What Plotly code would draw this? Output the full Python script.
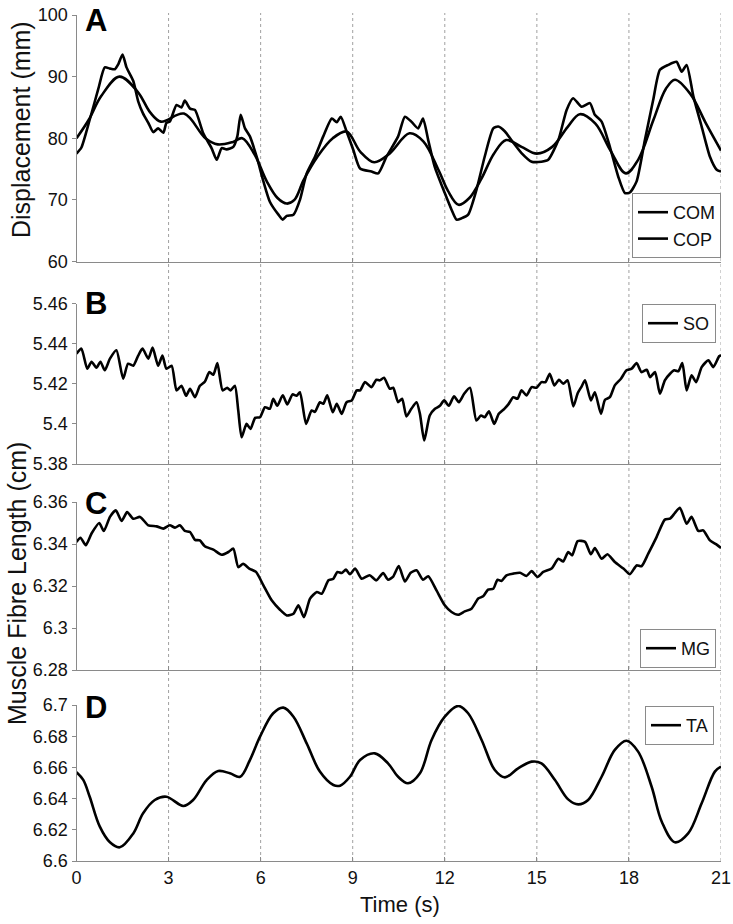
import plotly.graph_objects as go

# ---------------- data ----------------
x_ticks = [0, 3, 6, 9, 12, 15, 18, 21]

# Panel A: COM (smooth) and COP (noisy), mm
com_t = [0, 0.4, 0.8, 1.4, 2.0, 2.4, 2.75, 3.5, 4.2, 4.6, 5.1, 5.4, 5.8, 6.2, 6.55, 6.85, 7.1, 7.4,
         7.85, 8.35, 8.8, 9.25, 9.7, 10.2, 10.85, 11.3, 11.8, 12.1, 12.45, 12.8, 13.2, 13.6, 14.0,
         14.5, 15.0, 15.5, 16.0, 16.4, 16.9, 17.4, 17.9, 18.3, 18.8, 19.2, 19.5, 20.0, 20.5, 21.0]
com_y = [80, 83, 86.8, 90, 87.5, 84.2, 82.7, 84.0, 80.0, 79.0, 79.4, 80.0, 77.4, 73, 70.3, 69.4, 70,
         73.2, 77, 80, 81.1, 77.8, 76.1, 77.5, 80.8, 79.5, 74.8, 71.5, 69.2, 70.3, 73.5, 77.5, 79.7,
         78.6, 77.5, 78.6, 81.8, 83.9, 82.4, 78.0, 74.3, 76.5, 83.0, 88.0, 89.5, 87.2, 82.5, 78]

cop_t = [0.00, 0.16, 0.43, 0.71, 0.92, 1.09, 1.25, 1.36, 1.50, 1.63, 1.85, 2.01, 2.17, 2.34, 2.50,
         2.66, 2.83, 2.93, 3.04, 3.26, 3.42, 3.53, 3.70, 3.86, 4.13, 4.40, 4.57, 4.73, 4.89, 5.11,
         5.24, 5.35, 5.49, 5.65, 5.87, 6.09, 6.30, 6.58, 6.72, 6.85, 7.07, 7.28, 7.50, 7.77, 8.04,
         8.32, 8.48, 8.61, 8.80, 9.02, 9.24, 9.61, 9.83, 10.10, 10.48, 10.70, 10.91, 11.13, 11.29,
         11.46, 11.67, 12.00, 12.22, 12.38, 12.54, 12.76, 13.03, 13.30, 13.58, 13.74, 13.96, 14.17,
         14.50, 14.83, 15.15, 15.37, 15.70, 15.97, 16.18, 16.46, 16.73, 16.89, 17.11, 17.38, 17.65,
         17.87, 18.03, 18.25, 18.52, 18.79, 19.01, 19.28, 19.55, 19.72, 19.88, 20.10, 20.37, 20.64,
         20.86, 21.00]
cop_y = [77.5, 78.5, 83, 88, 91.5, 91.3, 91.2, 92, 93.6, 91.5, 89.3, 86, 84, 82.5, 81,
         81.6, 80.9, 82.5, 82.7, 85.4, 85, 86.1, 84.8, 84.6, 80.8, 78.4, 76.5, 78.4, 78.2, 78.6,
         80.3, 83.8, 81.6, 80.3, 77, 73, 69.7, 67.6, 66.8, 67.4, 67.6, 70, 74.3, 77, 80.3,
         83.2, 82.6, 83.5, 81.1, 78.1, 75.1, 74.6, 74.3, 77, 80.3, 83.5, 82.7, 81.6, 83.2,
         79.7, 75.4, 71.1, 68.4, 66.8, 67, 67.6, 71.6, 77, 81.6, 81.9, 81.1, 79.7,
         77.6, 76.2, 76.2, 76.5, 79.7, 84.6, 86.5, 85.1, 85.7, 83.8, 82.7, 78.6, 73.8,
         71.1, 71.2, 73, 79.7, 86.2, 91.1, 91.9, 92.4, 90.8, 91.9, 86.8, 81.9, 77,
         74.9, 74.6]

# Panel B: SO fibre length, cm
so_t = [0.00, 0.16, 0.35, 0.49, 0.65, 0.78, 0.92, 1.09, 1.30, 1.52, 1.68, 1.85, 2.01, 2.15, 2.34,
        2.48, 2.66, 2.80, 2.93, 3.10, 3.26, 3.42, 3.57, 3.70, 3.86, 4.02, 4.18, 4.33, 4.46, 4.59,
        4.76, 4.91, 5.02, 5.16, 5.27, 5.38, 5.54, 5.67, 5.82, 5.98, 6.14, 6.30, 6.41, 6.54, 6.72,
        6.87, 7.04, 7.17, 7.28, 7.48, 7.66, 7.77, 7.93, 8.04, 8.17, 8.35, 8.48, 8.64, 8.80, 8.97,
        9.13, 9.24, 9.40, 9.61, 9.77, 9.88, 10.02, 10.21, 10.32, 10.48, 10.61, 10.75, 10.91, 11.08,
        11.19, 11.33, 11.51, 11.68, 11.84, 11.98, 12.13, 12.30, 12.46, 12.63, 12.82, 13.03, 13.18,
        13.30, 13.44, 13.61, 13.76, 13.94, 14.07, 14.23, 14.37, 14.50, 14.66, 14.83, 14.99, 15.15,
        15.28, 15.42, 15.57, 15.72, 15.86, 16.00, 16.19, 16.33, 16.46, 16.57, 16.76, 16.89, 17.09,
        17.22, 17.38, 17.54, 17.74, 17.92, 18.09, 18.25, 18.41, 18.58, 18.69, 18.85, 19.01, 19.17,
        19.34, 19.48, 19.61, 19.74, 19.88, 20.04, 20.19, 20.37, 20.59, 20.75, 20.94, 21.00]
so_y = [5.435, 5.4375, 5.4275, 5.431, 5.428, 5.431, 5.4267, 5.4325, 5.4367, 5.4225, 5.430, 5.429,
        5.434, 5.4375, 5.4325, 5.438, 5.429, 5.434, 5.4275, 5.429, 5.4167, 5.419, 5.414, 5.4175,
        5.4133, 5.419, 5.421, 5.4258, 5.4245, 5.4303, 5.4167, 5.418, 5.4167, 5.419, 5.4067, 5.3933,
        5.400, 5.3975, 5.403, 5.4033, 5.4083, 5.4075, 5.4125, 5.409, 5.4142, 5.4097, 5.4147, 5.414,
        5.4158, 5.400, 5.4067, 5.406, 5.4108, 5.410, 5.4142, 5.4058, 5.410, 5.405, 5.4108, 5.4117,
        5.4167, 5.4167, 5.4208, 5.4183, 5.422, 5.4217, 5.423, 5.4175, 5.418, 5.4108, 5.4125, 5.4037,
        5.4075, 5.4108, 5.405, 5.3917, 5.4042, 5.4075, 5.409, 5.4117, 5.409, 5.4137, 5.4108, 5.415,
        5.418, 5.4017, 5.4042, 5.4033, 5.4063, 5.400, 5.405, 5.4075, 5.4097, 5.4133, 5.4125, 5.4167,
        5.4142, 5.4183, 5.418, 5.4208, 5.4208, 5.425, 5.4192, 5.422, 5.420, 5.4217, 5.4087, 5.4153,
        5.4187, 5.4217, 5.4117, 5.4158, 5.405, 5.412, 5.4133, 5.4192, 5.4225, 5.4267, 5.4275, 5.4303,
        5.4258, 5.427, 5.4233, 5.4258, 5.415, 5.4217, 5.425, 5.4267, 5.4262, 5.4303, 5.4167, 5.4242,
        5.4208, 5.4283, 5.4317, 5.4283, 5.4337, 5.4342]

# Panel C: MG fibre length, cm
mg_t = [0.00, 0.13, 0.30, 0.49, 0.74, 0.89, 1.09, 1.28, 1.47, 1.65, 1.85, 2.07, 2.34, 2.61, 2.83,
        3.04, 3.21, 3.37, 3.53, 3.70, 3.86, 4.02, 4.18, 4.46, 4.73, 4.95, 5.11, 5.27, 5.43, 5.63,
        5.85, 6.09, 6.36, 6.63, 6.85, 7.07, 7.23, 7.41, 7.61, 7.83, 7.99, 8.21, 8.37, 8.50, 8.64,
        8.78, 8.91, 9.08, 9.29, 9.55, 9.77, 9.99, 10.15, 10.32, 10.50, 10.70, 10.89, 11.08, 11.29,
        11.46, 11.73, 12.00, 12.22, 12.44, 12.65, 12.87, 13.09, 13.25, 13.41, 13.58, 13.72, 13.85,
        14.01, 14.23, 14.45, 14.66, 14.83, 15.02, 15.21, 15.48, 15.70, 15.86, 16.02, 16.15, 16.33,
        16.57, 16.76, 16.89, 17.11, 17.30, 17.54, 17.82, 18.03, 18.25, 18.41, 18.63, 18.90, 19.17,
        19.34, 19.50, 19.66, 19.88, 20.04, 20.26, 20.42, 20.64, 20.86, 21.00]
mg_y = [6.341, 6.343, 6.3394, 6.345, 6.350, 6.3462, 6.3529, 6.356, 6.351, 6.3552, 6.352, 6.3529,
        6.3489, 6.3484, 6.3473, 6.3489, 6.3478, 6.3489, 6.3462, 6.3457, 6.342, 6.3417, 6.3389,
        6.3373, 6.3349, 6.3362, 6.3378, 6.329, 6.3306, 6.3283, 6.3267, 6.3203, 6.3132, 6.3087,
        6.306, 6.3068, 6.3108, 6.3052, 6.314, 6.3171, 6.3163, 6.3227, 6.3235, 6.3267, 6.3262,
        6.3278, 6.3256, 6.3283, 6.3235, 6.3251, 6.3227, 6.3262, 6.323, 6.3245, 6.3295, 6.3222,
        6.3263, 6.3275, 6.323, 6.3246, 6.3179, 6.3108, 6.3076, 6.3063, 6.3079, 6.3092, 6.314,
        6.3151, 6.3183, 6.3187, 6.323, 6.3224, 6.3251, 6.3259, 6.3263, 6.3248, 6.3271, 6.3243,
        6.3267, 6.3283, 6.333, 6.3317, 6.3362, 6.3346, 6.3414, 6.341, 6.3351, 6.3381, 6.333,
        6.3351, 6.3314, 6.3283, 6.3256, 6.3298, 6.3294, 6.3354, 6.3433, 6.3516, 6.3521, 6.3548,
        6.3573, 6.3497, 6.3529, 6.3462, 6.3465, 6.3417, 6.3397, 6.3381]

# Panel D: TA fibre length, cm
ta_t = [0.00, 0.22, 0.43, 0.76, 1.09, 1.41, 1.85, 2.17, 2.55, 2.93, 3.48, 3.80, 4.24, 4.62, 5.00,
        5.33, 5.65, 5.98, 6.41, 6.74, 7.07, 7.50, 7.93, 8.37, 8.59, 8.91, 9.24, 9.72, 10.15, 10.48,
        10.80, 11.19, 11.57, 12.00, 12.44, 12.76, 13.20, 13.63, 13.96, 14.39, 14.83, 15.15, 15.59,
        16.02, 16.35, 16.67, 17.11, 17.54, 17.92, 18.30, 18.74, 19.07, 19.50, 19.93, 20.37, 20.80,
        21.00]
ta_y = [6.657, 6.652, 6.6412, 6.622, 6.612, 6.6088, 6.6177, 6.6306, 6.6391, 6.6412, 6.6353, 6.6391,
        6.6519, 6.6577, 6.6562, 6.654, 6.6647, 6.6797, 6.6947, 6.6983, 6.6925, 6.6754, 6.6573,
        6.6487, 6.6483, 6.654, 6.6647, 6.669, 6.6626, 6.654, 6.6498, 6.6562, 6.6776, 6.6925,
        6.6994, 6.6947, 6.6776, 6.6583, 6.6536, 6.6594, 6.6637, 6.6626, 6.6519, 6.6395, 6.6363,
        6.6391, 6.654, 6.6712, 6.6771, 6.6701, 6.6476, 6.6252, 6.612, 6.6177, 6.637, 6.6573,
        6.6605]

yA_ticks = [60, 70, 80, 90, 100]
yB_ticks = [5.38, 5.40, 5.42, 5.44, 5.46]
yB_text = ["5.38", "5.4", "5.42", "5.44", "5.46"]
yC_ticks = [6.28, 6.30, 6.32, 6.34, 6.36]
yC_text = ["6.28", "6.3", "6.32", "6.34", "6.36"]
yD_ticks = [6.60, 6.62, 6.64, 6.66, 6.68, 6.70]
yD_text = ["6.6", "6.62", "6.64", "6.66", "6.68", "6.7"]

# ---------------- figure ----------------
W, H = 733, 924
FONT = "Liberation Sans, Arial, Helvetica, sans-serif"
AX = "#8a8a8a"

def px(p):  # window pixel from left -> paper fraction
    return p / W

def py(p):  # window pixel from top -> paper fraction
    return 1 - p / H

x_dom = [px(76.5), px(721)]
doms = {
    "A": [py(261.5), py(15)],
    "B": [py(464), py(303.5)],
    "C": [py(670), py(502)],
    "D": [py(861), py(705)],
}

fig = go.Figure()
line = dict(color="black", width=2.6)
fig.add_trace(go.Scatter(x=com_t, y=com_y, name="COM", mode="lines", line=dict(line, shape="spline", smoothing=1.0),
                         xaxis="x", yaxis="y", legend="legend"))
fig.add_trace(go.Scatter(x=cop_t, y=cop_y, name="COP", mode="lines", line=dict(line, shape="spline", smoothing=0.6),
                         xaxis="x", yaxis="y", legend="legend"))
fig.add_trace(go.Scatter(x=so_t, y=so_y, name="SO", mode="lines", line=dict(line, shape="spline", smoothing=0.6),
                         xaxis="x2", yaxis="y2", legend="legend2"))
fig.add_trace(go.Scatter(x=mg_t, y=mg_y, name="MG", mode="lines", line=dict(line, shape="spline", smoothing=0.6),
                         xaxis="x3", yaxis="y3", legend="legend3"))
fig.add_trace(go.Scatter(x=ta_t, y=ta_y, name="TA", mode="lines", line=dict(line, shape="spline", smoothing=1.0),
                         xaxis="x4", yaxis="y4", legend="legend4"))

tick_font = dict(family=FONT, size=18, color="#111")

def xaxis(anchor, show_labels):
    return dict(domain=x_dom, anchor=anchor, range=[0, 21], tickvals=x_ticks,
                showticklabels=show_labels, ticks="inside", ticklen=4, tickcolor=AX,
                showline=True, linecolor=AX, linewidth=1, showgrid=False, zeroline=False,
                tickfont=tick_font, fixedrange=True, automargin=False, ticklabeloverflow="allow")

def yaxis(anchor, dom, rng, vals, text):
    return dict(domain=dom, anchor=anchor, range=rng, tickvals=vals, ticktext=text,
                ticks="outside", ticklen=4, tickcolor=AX, showline=True, linecolor=AX,
                linewidth=1, showgrid=False, zeroline=False, tickfont=tick_font, fixedrange=True,
                automargin=False, ticklabeloverflow="allow")

legend_common = dict(bgcolor="white", bordercolor=AX, borderwidth=1,
                     font=dict(family=FONT, size=18, color="#111"), itemwidth=30,
                     tracegroupgap=0, xanchor="right")

fig.update_layout(
    width=W, height=H, margin=dict(l=0, r=0, t=0, b=0, autoexpand=False),
    paper_bgcolor="white", plot_bgcolor="white", font=dict(family=FONT, color="#111"),
    xaxis=xaxis("y", False),
    xaxis2=xaxis("y2", False),
    xaxis3=xaxis("y3", False),
    xaxis4=xaxis("y4", True),
    yaxis=yaxis("x", doms["A"], [60, 100], yA_ticks, [str(v) for v in yA_ticks]),
    yaxis2=yaxis("x2", doms["B"], [5.38, 5.46], yB_ticks, yB_text),
    yaxis3=yaxis("x3", doms["C"], [6.28, 6.36], yC_ticks, yC_text),
    yaxis4=yaxis("x4", doms["D"], [6.60, 6.70], yD_ticks, yD_text),
    legend=dict(legend_common, x=px(721), y=py(258), yanchor="bottom"),
    legend2=dict(legend_common, x=px(716), y=py(304), yanchor="top"),
    legend3=dict(legend_common, x=px(716), y=py(668), yanchor="bottom"),
    legend4=dict(legend_common, x=px(714), y=py(706), yanchor="top"),
    showlegend=True,
)

# vertical dotted grid lines running through all panels
for v in x_ticks[1:]:
    fig.add_shape(type="line", xref="x4", yref="paper", x0=v, x1=v, y0=py(861), y1=py(13),
                  line=dict(color="#a0a0a0", width=1, dash="dot"), layer="below")

# panel letters
for letter, ycen in [("A", 21), ("B", 304), ("C", 504), ("D", 707)]:
    fig.add_annotation(text=f"<b>{letter}</b>", xref="paper", yref="paper", x=px(83), y=py(ycen),
                       xanchor="left", yanchor="middle", showarrow=False,
                       font=dict(family=FONT, size=31, color="black"))

# axis titles
fig.add_annotation(text="Displacement (mm)", xref="paper", yref="paper", x=px(21), y=py(130),
                   textangle=-90, showarrow=False, xanchor="center", yanchor="middle",
                   font=dict(family=FONT, size=25, color="#111"))
fig.add_annotation(text="Muscle Fibre Length (cm)", xref="paper", yref="paper", x=px(17), y=py(584),
                   textangle=-90, showarrow=False, xanchor="center", yanchor="middle",
                   font=dict(family=FONT, size=25, color="#111"))
fig.add_annotation(text="Time (s)", xref="paper", yref="paper", x=px(400), y=py(904),
                   showarrow=False, xanchor="center", yanchor="middle",
                   font=dict(family=FONT, size=22, color="#111"))

# the page's default 8px body margin would shift the figure; remove it
fig.write_html("out.html", config={"displayModeBar": False},
               post_script="document.body.style.margin='0px';document.body.style.overflow='hidden';")
